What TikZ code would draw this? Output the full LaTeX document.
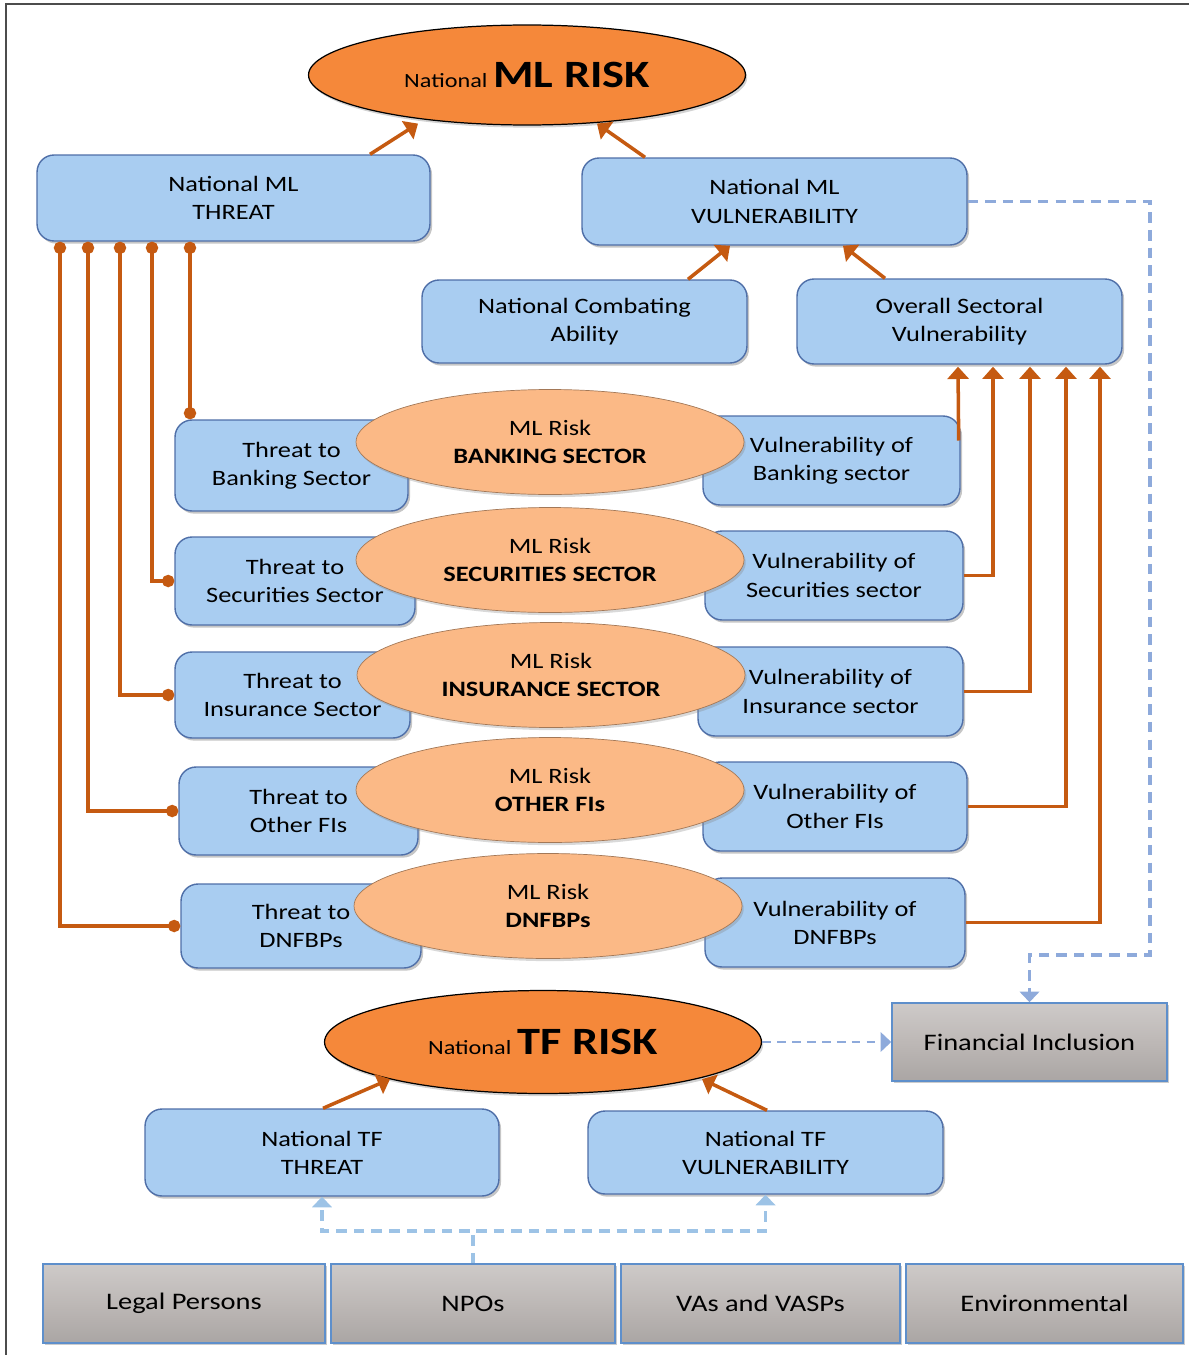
\documentclass[tikz,border=0pt]{standalone}
\usepackage{fontspec}
\setmainfont[FakeStretch=1.2]{Carlito}
\usetikzlibrary{positioning, arrows.meta, shadows, shapes.geometric}

\definecolor{boxblue}{HTML}{A9CDF1}
\definecolor{boxedge}{HTML}{4F6FA8}
\definecolor{boxgrey}{HTML}{BDB8B6}
\definecolor{greyedge}{HTML}{5E8FCB}
\definecolor{riskdark}{HTML}{F5883A}
\definecolor{risklight}{HTML}{FBB986}
\definecolor{linkorange}{HTML}{C55A11}
\definecolor{dashblue}{HTML}{8EAADB}
\definecolor{dashpale}{HTML}{9DC3E6}

\begin{document}
\begin{tikzpicture}[
  x=0.02cm, y=-0.02cm,
  font=\fontsize{12.5}{16}\selectfont,
  box/.style={draw=boxedge, line width=0.8pt, rounded corners=0.34cm, fill=boxblue, align=center, inner sep=0pt,
    drop shadow={shadow xshift=1.2pt, shadow yshift=-1.5pt, opacity=0.45}},
  greybox/.style={draw=greyedge, line width=0.9pt, top color=boxgrey!75!white, bottom color=boxgrey!90!black,
    middle color=boxgrey, align=center, inner sep=0pt, font=\fontsize{13.5}{16}\selectfont,
    drop shadow={shadow xshift=1.2pt, shadow yshift=-1.2pt, opacity=0.4}},
  riskbig/.style={ellipse, draw=black, line width=0.7pt, fill=riskdark, inner sep=0pt,
    drop shadow={shadow xshift=1pt, shadow yshift=-1.5pt, opacity=0.35}},
  risksec/.style={ellipse, draw=risklight!65!black, line width=0.4pt, fill=risklight, align=center, inner sep=0pt,
    minimum width=7.76cm, minimum height=2.1cm,
    drop shadow={shadow xshift=1pt, shadow yshift=-1.5pt, opacity=0.3}},
  arrow/.style={-{Triangle[width=12pt,length=7pt]}, line width=2pt, draw=linkorange},
  dotline/.style={{Circle[length=7pt]}-{Circle[length=7pt]}, line width=1.8pt, draw=linkorange},
  dashlink/.style={-{Triangle[width=11pt,length=6pt]}, line width=2pt, draw=dashblue, dash pattern=on 6pt off 4pt}
]
  \useasboundingbox (0,0) rectangle (1189,1355);
  % Frame
  \draw[line width=1.3pt, black!70] (1189,4) -- (6,4) -- (6,1355);

  % Nodes
  \node[box, minimum width=7.86cm, minimum height=1.72cm] (mlthreat) at (233.5,198) {National ML\\THREAT};
  \node[box, minimum width=7.7cm, minimum height=1.74cm] (mlvuln) at (774.5,201.5) {National ML\\VULNERABILITY};
  \node[box, minimum width=6.5cm, minimum height=1.66cm] (combat) at (584.5,321.5) {National Combating\\Ability};
  \node[box, minimum width=6.5cm, minimum height=1.7cm] (sectoral) at (959.5,321.5) {Overall Sectoral\\Vulnerability};
  \node[riskbig, minimum width=8.74cm, minimum height=2cm] (mlrisk) at (527,75)
    {{\fontsize{11.5}{14}\selectfont National} {\fontsize{22}{24}\selectfont\bfseries ML RISK}};

  % sector rows
  \node[box, minimum width=4.66cm, minimum height=1.82cm] (tbank) at (291.5,465.5) {Threat to\\Banking Sector};
  \node[box, minimum width=5.14cm, minimum height=1.78cm] (vbank) at (831.5,460.5) {Vulnerability of\\Banking sector};
  \node[risksec] (rbank) at (550,442) {ML Risk\\\textbf{BANKING SECTOR}};

  \node[box, minimum width=4.8cm, minimum height=1.76cm] (tsec) at (295,581) {Threat to\\Securities Sector};
  \node[box, minimum width=5.16cm, minimum height=1.78cm] (vsec) at (834,575.5) {Vulnerability of\\Securities sector};
  \node[risksec] (rsec) at (550,560) {ML Risk\\\textbf{SECURITIES SECTOR}};

  \node[box, minimum width=4.7cm, minimum height=1.72cm] (tins) at (292.5,695) {Threat to\\Insurance Sector};
  \node[box, minimum width=5.3cm, minimum height=1.78cm] (vins) at (830.5,691.5) {Vulnerability of\\Insurance sector};
  \node[risksec] (rins) at (551,675) {ML Risk\\\textbf{INSURANCE SECTOR}};

  \node[box, minimum width=4.78cm, minimum height=1.76cm] (toth) at (298.5,811) {Threat to\\Other FIs};
  \node[box, minimum width=5.28cm, minimum height=1.78cm] (voth) at (835,806.5) {Vulnerability of\\Other FIs};
  \node[risksec] (roth) at (550,790) {ML Risk\\\textbf{OTHER FIs}};

  \node[box, minimum width=4.8cm, minimum height=1.68cm] (tdnf) at (301,926) {Threat to\\DNFBPs};
  \node[box, minimum width=5.2cm, minimum height=1.78cm] (vdnf) at (835,922.5) {Vulnerability of\\DNFBPs};
  \node[risksec] (rdnf) at (548,906) {ML Risk\\\textbf{DNFBPs}};

  % TF part
  \node[riskbig, minimum width=8.74cm, minimum height=2.06cm] (tfrisk) at (543,1042)
    {{\fontsize{11.5}{14}\selectfont National} {\fontsize{22}{24}\selectfont\bfseries TF RISK}};
  \node[greybox, minimum width=5.5cm, minimum height=1.56cm] (finincl) at (1029.5,1042) {Financial Inclusion};
  \node[box, minimum width=7.08cm, minimum height=1.74cm] (tfthreat) at (322,1152.5) {National TF\\THREAT};
  \node[box, minimum width=7.1cm, minimum height=1.66cm] (tfvuln) at (765.5,1152.5) {National TF\\VULNERABILITY};

  \node[greybox, minimum width=5.64cm, minimum height=1.58cm] (legal) at (184,1303.5) {Legal Persons};
  \node[greybox, minimum width=5.68cm, minimum height=1.58cm] (npos) at (473,1303.5) {NPOs};
  \node[greybox, minimum width=5.58cm, minimum height=1.58cm] (vasp) at (760.5,1303.5) {VAs and VASPs};
  \node[greybox, minimum width=5.54cm, minimum height=1.58cm] (envir) at (1044.5,1303.5) {Environmental};

  % Edges
  \draw[arrow] ([shift={(136.5,0)}]mlthreat.north) -- ([shift={(-109,-2)}]mlrisk.south);
  \draw[arrow] ([shift={(-129.5,0)}]mlvuln.north) -- ([shift={(70,-2)}]mlrisk.south);
  \draw[arrow] ([shift={(103.5,0)}]combat.north) -- ([shift={(-44.5,0)}]mlvuln.south);
  \draw[arrow] ([shift={(-74.5,0)}]sectoral.north) -- ([shift={(68.5,0)}]mlvuln.south);

  \draw[dotline] ([shift={(-43.5,0)}]mlthreat.south) -- ([shift={(-101.5,0)}]tbank.north);
  \draw[dotline] ([shift={(-81.5,0)}]mlthreat.south) |- (tsec.west);
  \draw[dotline] ([shift={(-113.5,0)}]mlthreat.south) |- (tins.west);
  \draw[dotline] ([shift={(-145.5,0)}]mlthreat.south) |- (toth.west);
  \draw[dotline] ([shift={(-173.5,0)}]mlthreat.south) |- (tdnf.west);

  \draw[arrow] ([shift={(-2,-20)}]vbank.east) -- ([shift={(-1.5,2)}]sectoral.south);
  \draw[arrow] (vsec.east) -| ([shift={(33.5,2)}]sectoral.south);
  \draw[arrow] (vins.east) -| ([shift={(70.5,2)}]sectoral.south);
  \draw[arrow] (voth.east) -| ([shift={(106.5,2)}]sectoral.south);
  \draw[arrow] (vdnf.east) -| ([shift={(140.5,2)}]sectoral.south);

  \draw[arrow] ([shift={(1,0)}]tfthreat.north) -- ([shift={(-153,-15)}]tfrisk.south);
  \draw[arrow] ([shift={(1.5,0)}]tfvuln.north) -- ([shift={(159,-15)}]tfrisk.south);

  \coordinate (fibend) at (1150,955);
  \draw[dashlink] (mlvuln.east) -| (fibend) -| (finincl.north);
  \draw[dashlink, line width=1.2pt, dash pattern=on 5pt off 3.5pt] (tfrisk.east) -- (finincl.west);
  \draw[dashlink, draw=dashpale] (npos.north) -- ++(0,-32) -| (tfthreat.south);
  \draw[dashlink, draw=dashpale] (npos.north) -- ++(0,-32) -| (tfvuln.south);

\end{tikzpicture}
\end{document}
